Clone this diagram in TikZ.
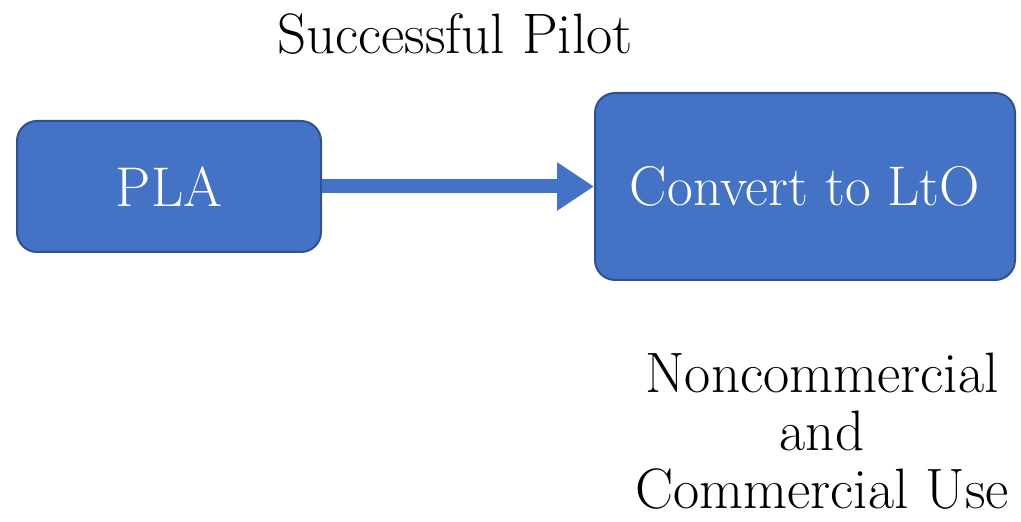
\documentclass[tikz,border=0pt]{standalone}
\usepackage{tikz}
\usetikzlibrary{arrows.meta}
\definecolor{boxblue}{HTML}{4472C4}
\definecolor{boxedge}{HTML}{2F528F}

\begin{document}
\begin{tikzpicture}[x=0.5pt,y=-0.5pt,
    box/.style={draw=boxedge, line width=1pt, fill=boxblue, rounded corners=10pt, text=white, font=\fontsize{28}{32}\selectfont},
    lbl/.style={font=\fontsize{28.5}{29}\selectfont, align=center, inner sep=0.5pt}]
    \useasboundingbox (0,0) rectangle (1021,522);

    \node[box, minimum width=152pt, minimum height=65.5pt] (PLA) at (169,186.5) {PLA};
    \node[box, minimum width=210pt, minimum height=93.5pt] (LtO) at (805,186.5) {Convert to LtO};

    \node[lbl] (pilot) at (455,34) {Successful Pilot};
    \node[lbl] (use) at (822,431) {Noncommercial\\and\\Commercial Use};

    \draw[-{Triangle[length=18.5pt,width=23pt]}, line width=7pt, boxblue] (PLA) -- (LtO);
\end{tikzpicture}
\end{document}
